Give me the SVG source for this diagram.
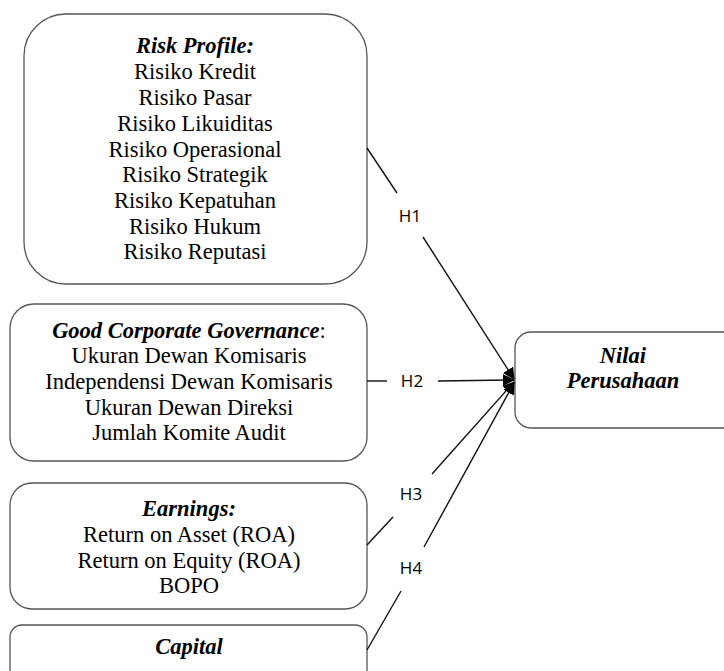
<svg xmlns="http://www.w3.org/2000/svg" width="724" height="671" viewBox="0 0 724 671">
<style>
.box{fill:#fff;stroke:#555;stroke-width:1.3}
.t{font-family:"Liberation Serif","Times New Roman",serif;font-size:22.5px;fill:#000;text-anchor:middle}
.h{font-style:italic;font-weight:bold}
.lbl{font-family:"Open Sans","Liberation Sans",sans-serif;font-size:17px;fill:#000;text-anchor:middle}
.ln{stroke:#111;stroke-width:1.4;fill:none}
</style>
<defs>
<marker id="ah" viewBox="0 0 12 12" refX="11" refY="6" markerWidth="12" markerHeight="12" markerUnits="userSpaceOnUse" orient="auto">
<path d="M0,0 L12,6 L0,12 Z" fill="#000"/>
</marker>
</defs>
<rect width="724" height="671" fill="#fff"/>
<g id="risk-profile">
<rect class="box" x="24" y="14" width="343" height="270" rx="42" ry="42"/>
<text class="t h" x="195" y="53">Risk Profile:</text>
<text class="t" x="195" y="79">Risiko Kredit</text>
<text class="t" x="195" y="105">Risiko Pasar</text>
<text class="t" x="195" y="131">Risiko Likuiditas</text>
<text class="t" x="195" y="157">Risiko Operasional</text>
<text class="t" x="195" y="182">Risiko Strategik</text>
<text class="t" x="195" y="208">Risiko Kepatuhan</text>
<text class="t" x="195" y="234">Risiko Hukum</text>
<text class="t" x="195" y="259">Risiko Reputasi</text>
</g>
<g id="gcg">
<rect class="box" x="10" y="304" width="357" height="157" rx="24" ry="24"/>
<text class="t" x="189" y="338"><tspan class="h">Good Corporate Governance</tspan>:</text>
<text class="t" x="189" y="363">Ukuran Dewan Komisaris</text>
<text class="t" x="189" y="389">Independensi Dewan Komisaris</text>
<text class="t" x="189" y="415">Ukuran Dewan Direksi</text>
<text class="t" x="189" y="440">Jumlah Komite Audit</text>
</g>
<g id="earnings">
<rect class="box" x="10" y="483" width="357" height="126" rx="22" ry="22"/>
<text class="t h" x="189" y="516">Earnings:</text>
<text class="t" x="189" y="542">Return on Asset (ROA)</text>
<text class="t" x="189" y="568">Return on Equity (ROA)</text>
<text class="t" x="189" y="593">BOPO</text>
</g>
<g id="capital">
<rect class="box" x="10" y="625" width="357" height="70" rx="12" ry="12"/>
<text class="t h" x="189" y="654">Capital</text>
</g>
<g id="nilai-perusahaan">
<rect class="box" x="515" y="332" width="230" height="96" rx="16" ry="16"/>
<text class="t h" x="623" y="363">Nilai</text>
<text class="t h" x="623" y="388">Perusahaan</text>
</g>
<g id="connectors">
<line class="ln" x1="367" y1="148" x2="397" y2="193"/>
<line class="ln" x1="423" y1="237" x2="514" y2="379" marker-end="url(#ah)"/>
<line class="ln" x1="367" y1="381" x2="387" y2="381"/>
<line class="ln" x1="438" y1="381" x2="514" y2="380" marker-end="url(#ah)"/>
<line class="ln" x1="367" y1="545" x2="393" y2="517"/>
<line class="ln" x1="432" y1="474" x2="514" y2="382" marker-end="url(#ah)"/>
<line class="ln" x1="367" y1="650" x2="401" y2="591"/>
<line class="ln" x1="424" y1="547" x2="514" y2="383" marker-end="url(#ah)"/>
<text class="lbl" x="410" y="222">H1</text>
<text class="lbl" x="412" y="387">H2</text>
<text class="lbl" x="411" y="500">H3</text>
<text class="lbl" x="411" y="574">H4</text>
</g>
</svg>
